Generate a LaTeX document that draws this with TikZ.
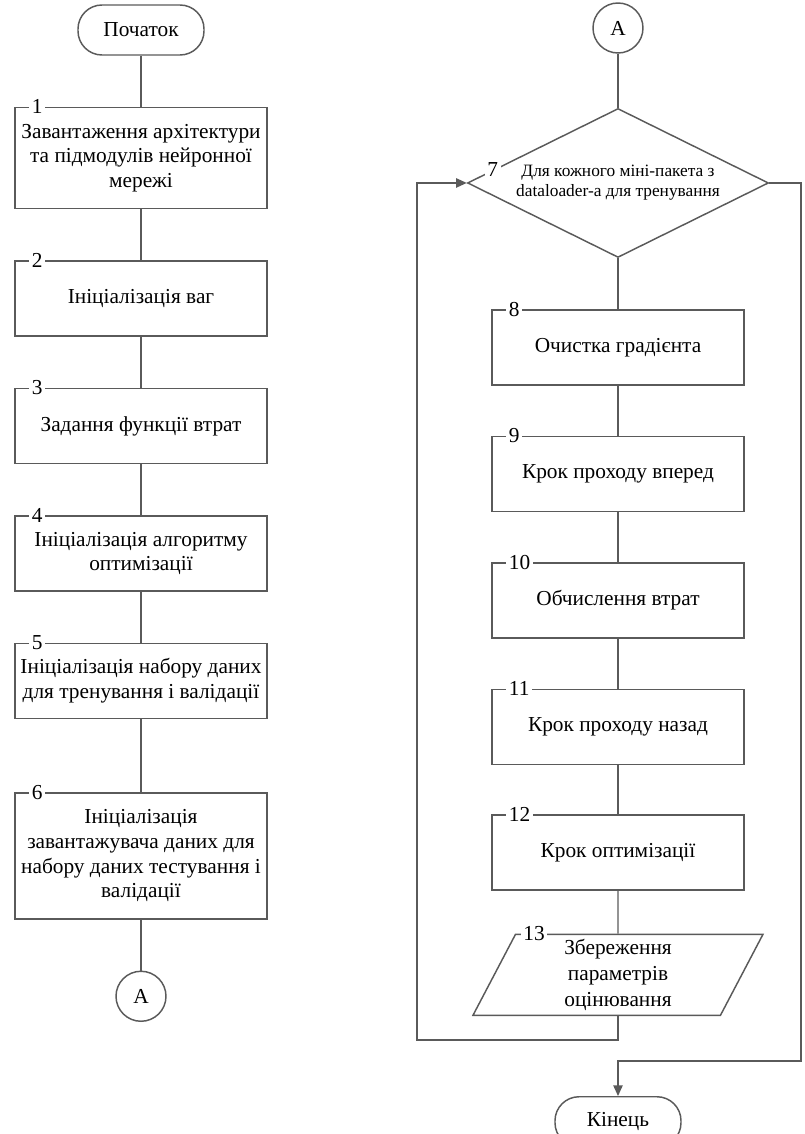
\documentclass[tikz,border=0pt]{standalone}
\usepackage{fontspec}
\setmainfont{Liberation Serif}
\usepackage{xcolor}
\usetikzlibrary{arrows.meta, positioning, shapes.geometric}
\definecolor{linegray}{HTML}{5A5A5A}

\begin{document}
\begin{tikzpicture}
            [
            font=\fontsize{16}{18.5}\selectfont,
            terminal/.style={
                rectangle,
                draw=linegray,
                line width=1.1pt,
                rounded corners=18pt,
                minimum width=94.5pt,
                minimum height=37.5pt
            },
            process/.style={
                rectangle,
                draw=linegray,
                line width=1.1pt,
                inner xsep=2pt,
                minimum width=189pt,
                minimum height=56.25pt,
                align=center
            },
            decision/.style={
                diamond,
                draw=linegray,
                line width=1.1pt,
                aspect=2,
                inner sep=1pt,
                minimum width=225.75pt,
                minimum height=111.75pt,
                align=center,
                font=\fontsize{13}{15}\selectfont
            },
            iobox/.style={
                trapezium,
                trapezium left angle=61,
                trapezium right angle=119,
                trapezium stretches body=true,
                draw=linegray,
                line width=1.1pt,
                inner sep=2pt,
                minimum width=217.5pt,
                minimum height=60.75pt,
                align=center,
                font=\fontsize{16}{19.5}\selectfont
            },
            connector/.style={
                circle,
                draw=linegray,
                line width=1.1pt,
                minimum size=37.5pt,
                inner sep=0pt
            },
            numlbl/.style={
                fill=white,
                inner sep=2pt
            },
            boxnum/.style={
                label={[numlbl, anchor=west, xshift=11pt]north west:#1}
            },
            line/.style={
                draw=linegray,
                line width=1.1pt
            },
            arrow/.style={
                line,
                -{Triangle[length=8pt, width=7pt]}
            }
            ]
            \useasboundingbox (0,0) rectangle (603pt,-850.5pt);

            % ліва колонка
            \node (start) [terminal] at (105.75pt,-22.5pt) {Початок};
            \node (b1) [process, boxnum=1, minimum height=75.75pt, below=38.25pt of start] {Завантаження архітектури\\та підмодулів нейронної\\мережі};
            \node (b2) [process, boxnum=2, below=38.25pt of b1] {Ініціалізація ваг};
            \node (b3) [process, boxnum=3, below=38.25pt of b2] {Задання функції втрат};
            \node (b4) [process, boxnum=4, below=38.25pt of b3] {Ініціалізація алгоритму\\оптимізації};
            \node (b5) [process, boxnum=5, below=38.25pt of b4] {Ініціалізація набору даних\\для тренування і валідації};
            \node (b6) [process, boxnum=6, minimum height=94.5pt, below=54.75pt of b5] {Ініціалізація\\завантажувача даних для\\набору даних тестування і\\валідації};
            \node (conA) [connector, below=38.25pt of b6] {A};

            % права колонка
            \node (conA2) [connector] at (463.5pt,-21pt) {A};
            \node (d7) [decision, below=40.5pt of conA2] {Для кожного міні-пакета з\\dataloader-а для тренування};
            \node (l7) [numlbl, font=\fontsize{16}{18.5}\selectfont] at ([xshift=19.5pt, yshift=9.75pt]d7.west) {7};
            \node (b8) [process, boxnum=8, below=38.25pt of d7] {Очистка градієнта};
            \node (b9) [process, boxnum=9, below=37.5pt of b8] {Крок проходу вперед};
            \node (b10) [process, boxnum=10, below=37.5pt of b9] {Обчислення втрат};
            \node (b11) [process, boxnum=11, below=37.5pt of b10] {Крок проходу назад};
            \node (b12) [process, boxnum=12, below=36.75pt of b11] {Крок оптимізації};
            \node (b13) [iobox, below=32.25pt of b12] {Збереження\\параметрів\\оцінювання};
            \node (l13) [numlbl, anchor=west] at ([xshift=4pt]b13.top left corner) {13};
            \node (end) [terminal, below=60pt of b13] {Кінець};
            \coordinate (rturn) at (600.75pt,-795.75pt);

            % з'єднання
            \draw[line] (start) -- (b1);
            \draw[line] (b1) -- (b2);
            \draw[line] (b2) -- (b3);
            \draw[line] (b3) -- (b4);
            \draw[line] (b4) -- (b5);
            \draw[line] (b5) -- (b6);
            \draw[line] (b6) -- (conA);

            \draw[line] (conA2) -- (d7);
            \draw[line] (d7) -- (b8);
            \draw[line] (b8) -- (b9);
            \draw[line] (b9) -- (b10);
            \draw[line] (b10) -- (b11);
            \draw[line] (b11) -- (b12);
            \draw[line] (b12) -- (b13);
            \draw[arrow] (b13.south) -- ++(0,-18pt) -| ([xshift=-37.5pt]d7.west) -- (d7.west); % цикл
            \draw[arrow] (d7.east) -| (rturn) -| (end.north);

        \end{tikzpicture}
\end{document}
